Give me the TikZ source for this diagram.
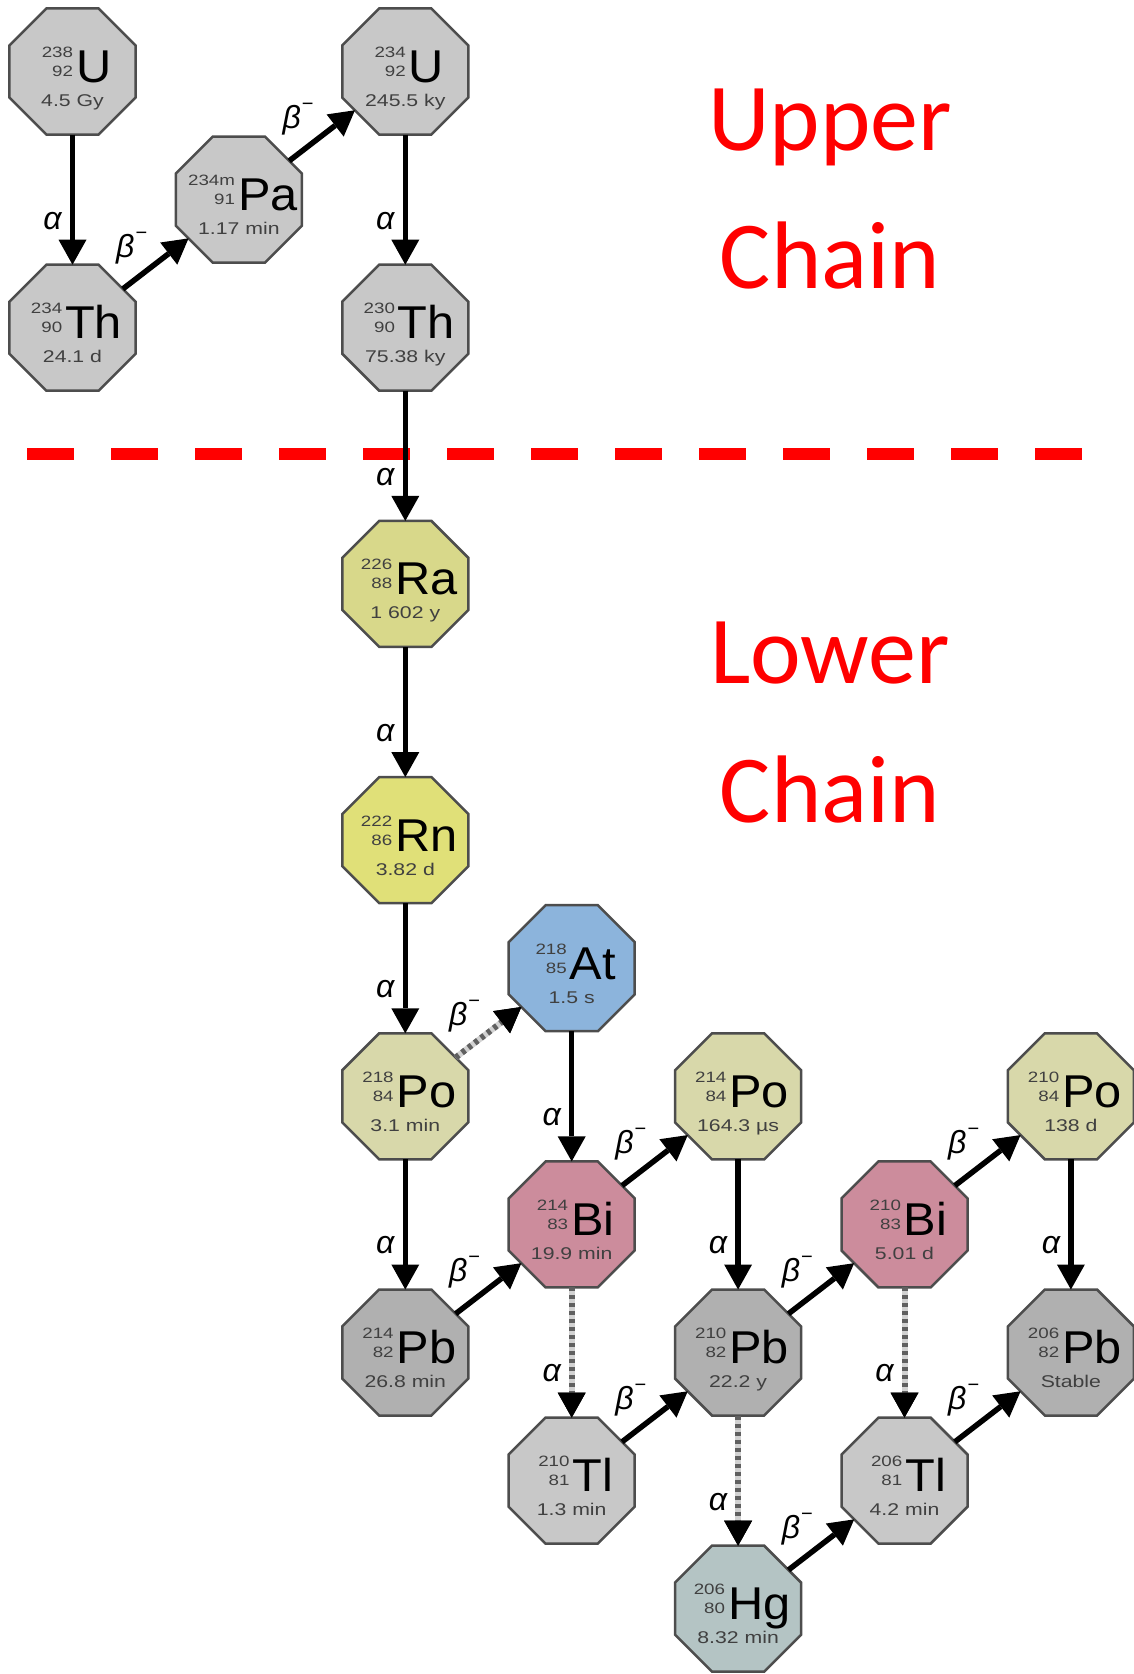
\documentclass[tikz,border=0pt]{standalone}
\usepackage{fontspec}
\setmainfont{Liberation Sans}
\newfontfamily\symf[FakeStretch=1.06]{Liberation Sans}
\newfontfamily\numf[FakeStretch=1.25]{Liberation Sans}
\newfontfamily\redf{Carlito}
\usetikzlibrary{shapes.geometric,arrows.meta}
\definecolor{cgray}{HTML}{C8C8C8}
\definecolor{cpb}{HTML}{B0B0B0}
\definecolor{cra}{HTML}{D8D88A}
\definecolor{crn}{HTML}{E0E078}
\definecolor{cpo}{HTML}{D8D8AA}
\definecolor{cat}{HTML}{8CB4DC}
\definecolor{cbi}{HTML}{CC8C9C}
\definecolor{chg}{HTML}{B4C4C4}
\definecolor{cline}{HTML}{4D4D4D}
\definecolor{ctxt}{HTML}{404040}
\tikzset{
  oct/.style={regular polygon, regular polygon sides=8, minimum size=136.4pt,
    inner sep=0pt, outer sep=0pt, draw=cline, line width=2.5pt},
  arr/.style={line width=5.5pt, -{Triangle[width=28pt,length=25pt,line width=0pt]}},
  dbase/.style={line width=6pt, draw=gray!35, -{Triangle[width=28pt,length=25pt,line width=0pt,color=black]}},
  ddash/.style={line width=6pt, draw=gray!75!black, dash pattern=on 4pt off 4pt,
    -{Triangle[width=28pt,length=25pt,line width=0pt,color=black]}},
  alab/.style={midway, xshift=-20pt, yshift=-21pt, inner sep=0pt, font=\fontsize{32}{32}\selectfont\itshape},
  blab/.style={midway, xshift=-24pt, yshift=16pt, inner sep=0pt, font=\fontsize{32}{32}\selectfont\itshape},
  redlab/.style={anchor=base, inner sep=0pt, text=red, font=\redf\fontsize{96}{96}\selectfont},
  txt/.style={anchor=base, inner sep=0pt},
}
\newcommand\betam{β\kern1pt\raisebox{18pt}{\upshape\fontsize{20}{20}\selectfont −}}
% #1 name, #2 col, #3 row, #4 fill, #5 mass, #6 Z, #7 symbol, #8 half-life
\newcommand\nucnode[8]{%
  \node[oct, fill=#4] (#1) at ({72.5+166.4*#2},{71.5+128.1*#3}) {};
  \node[txt] (#1-s) at ([xshift=4pt,yshift=-11pt]#1.center)
    {\raisebox{6pt}{\numf\fontsize{15}{15}\selectfont\color{ctxt}\begin{tabular}[b]{@{}r@{}}#5\\[4pt]#6\end{tabular}}\kern3pt{\symf\fontsize{46}{46}\selectfont #7}};
  \node[txt] (#1-h) at ([yshift=-35pt]#1.center)
    {\numf\fontsize{17}{17}\selectfont\color{ctxt}#8};
}
\begin{document}
\begin{tikzpicture}[x=1pt,y=-1pt]
\useasboundingbox (0,0) rectangle (1134,1674);
% red dashed separator
\coordinate (dl) at (27,454);
\coordinate (dr) at (1082,454);
\draw[red, line width=12pt, dash pattern=on 47pt off 37pt] (dl) -- (dr);
% chain labels
\node[redlab] (up1) at (830,150) {Upper};
\node[redlab] (up2) at (830,288) {Chain};
\node[redlab] (lo1) at (830,683) {Lower};
\node[redlab] (lo2) at (830,822) {Chain};
% nuclides
\nucnode{u238}{0}{0}{cgray}{238}{92}{U}{4.5 Gy}
\nucnode{th234}{0}{2}{cgray}{234}{90}{Th}{24.1 d}
\nucnode{pa234}{1}{1}{cgray}{234m}{91}{Pa}{1.17 min}
\nucnode{u234}{2}{0}{cgray}{234}{92}{U}{245.5 ky}
\nucnode{th230}{2}{2}{cgray}{230}{90}{Th}{75.38 ky}
\nucnode{ra226}{2}{4}{cra}{226}{88}{Ra}{1 602 y}
\nucnode{rn222}{2}{6}{crn}{222}{86}{Rn}{3.82 d}
\nucnode{at218}{3}{7}{cat}{218}{85}{At}{1.5 s}
\nucnode{po218}{2}{8}{cpo}{218}{84}{Po}{3.1 min}
\nucnode{po214}{4}{8}{cpo}{214}{84}{Po}{164.3 µs}
\nucnode{po210}{6}{8}{cpo}{210}{84}{Po}{138 d}
\nucnode{bi214}{3}{9}{cbi}{214}{83}{Bi}{19.9 min}
\nucnode{bi210}{5}{9}{cbi}{210}{83}{Bi}{5.01 d}
\nucnode{pb214}{2}{10}{cpb}{214}{82}{Pb}{26.8 min}
\nucnode{pb210}{4}{10}{cpb}{210}{82}{Pb}{22.2 y}
\nucnode{pb206}{6}{10}{cpb}{206}{82}{Pb}{Stable}
\nucnode{tl210}{3}{11}{cgray}{210}{81}{Tl}{1.3 min}
\nucnode{tl206}{5}{11}{cgray}{206}{81}{Tl}{4.2 min}
\nucnode{hg206}{4}{12}{chg}{206}{80}{Hg}{8.32 min}
% alpha decays
\draw[arr] (u238) -- (th234) node[alab] (a1) {α};
\draw[arr] (u234) -- (th230) node[alab] (a2) {α};
\draw[arr] (th230) -- (ra226) node[alab] (a3) {α};
\draw[arr] (ra226) -- (rn222) node[alab] (a4) {α};
\draw[arr] (rn222) -- (po218) node[alab] (a5) {α};
\draw[arr] (at218) -- (bi214) node[alab] (a6) {α};
\draw[arr] (po218) -- (pb214) node[alab] (a7) {α};
\draw[arr] (po214) -- (pb210) node[alab] (a8) {α};
\draw[arr] (po210) -- (pb206) node[alab] (a9) {α};
\draw[dbase] (bi214) -- (tl210);
\draw[ddash] (bi214) -- (tl210) node[alab] (a10) {α};
\draw[dbase] (pb210) -- (hg206);
\draw[ddash] (pb210) -- (hg206) node[alab] (a11) {α};
\draw[dbase] (bi210) -- (tl206);
\draw[ddash] (bi210) -- (tl206) node[alab] (a12) {α};
% beta decays
\draw[arr] (th234) -- (pa234) node[blab] (b1) {\betam};
\draw[arr] (pa234) -- (u234) node[blab] (b2) {\betam};
\draw[arr] (pb214) -- (bi214) node[blab] (b3) {\betam};
\draw[arr] (bi214) -- (po214) node[blab] (b4) {\betam};
\draw[arr] (tl210) -- (pb210) node[blab] (b5) {\betam};
\draw[arr] (pb210) -- (bi210) node[blab] (b6) {\betam};
\draw[arr] (hg206) -- (tl206) node[blab] (b7) {\betam};
\draw[arr] (bi210) -- (po210) node[blab] (b8) {\betam};
\draw[arr] (tl206) -- (pb206) node[blab] (b9) {\betam};
\draw[dbase] (po218) -- (at218);
\draw[ddash] (po218) -- (at218) node[blab] (b10) {\betam};
\end{tikzpicture}
\end{document}
